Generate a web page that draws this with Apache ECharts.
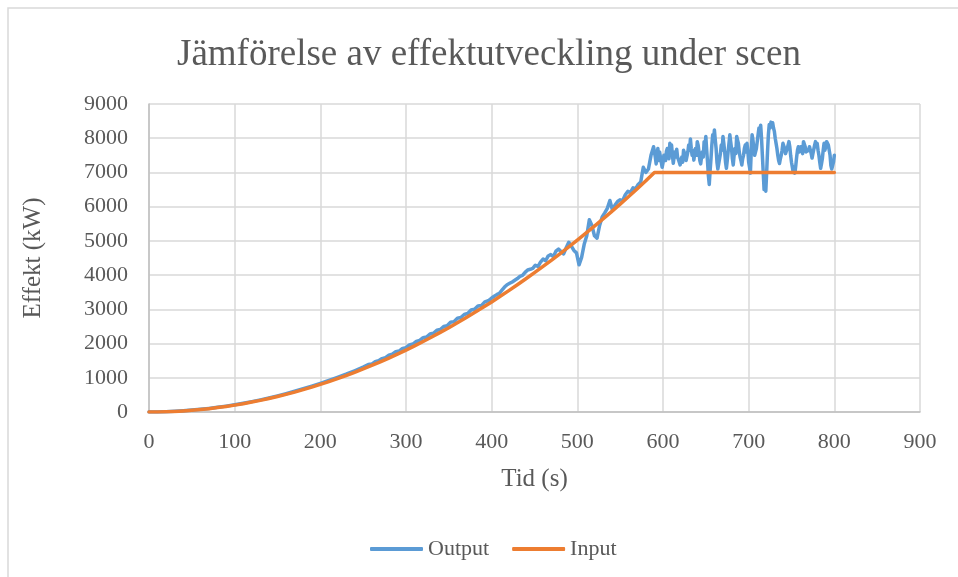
<!DOCTYPE html>
<html>
<head>
<meta charset="utf-8">
<script src="https://cdn.jsdelivr.net/npm/echarts@6/dist/echarts.min.js"></script>
<style>
  html, body { margin: 0; padding: 0; background: #ffffff; }
  #chart { width: 958px; height: 577px; }
</style>
</head>
<body>
<div id="chart"></div>
<script>
// Effekt över tid: uppmätt effekt (Output) och begärd effekt (Input)
const inputTime = [0,10,20,30,40,50,60,70,80,90,100,110,120,130,140,150,160,170,180,190,200,210,220,230,240,250,260,270,280,290,300,310,320,330,340,350,360,370,380,390,400,410,420,430,440,450,460,470,480,490,500,510,520,530,540,550,560,570,580,590,600,650,700,750,800];
const inputPower = [0,2,8,18,32,50,72,98,129,163,201,243,290,340,394,452,515,581,652,726,805,887,973,1063,1158,1257,1359,1466,1577,1692,1810,1933,2060,2191,2326,2464,2607,2753,2904,3059,3217,3380,3547,3717,3892,4071,4253,4440,4630,4825,5023,5226,5432,5643,5857,6076,6298,6525,6755,7000,7000,7000,7000,7000,7000];

// Upprampning 0–589 s
const outputTimeRamp = [
  0,10,20,30,40,50,60,70,80,90,100,110,120,130,140,150,160,170,180,190,200,210,220,230,240,250,
  252,256,260,264,268,272,276,280,284,288,292,296,300,304,308,312,316,320,324,328,332,336,340,344,348,352,356,360,364,368,372,376,380,384,388,392,396,400,
  403,406,409,412,415,418,421,424,427,430,433,436,439,442,445,448,451,454,457,460,463,466,469,472,475,478,481,484,487,490,493,496,499,502,505,508,511,514,517,520,523,526,529,532,535,538,541,544,547,550,553,556,559,562,565,568,571,574,577,580,583,586,589
];
const outputPowerRamp = [
  0,3,10,20,35,55,78,105,137,172,212,255,303,355,410,470,535,605,678,755,838,922,1012,1105,1205,1310,
  1330,1385,1400,1470,1500,1560,1590,1660,1690,1760,1780,1860,1880,1960,1985,2060,2090,2170,2190,2280,2300,2390,2410,2500,2520,2620,2640,2740,2760,2850,2880,2980,3000,3100,3110,3220,3250,3330,
  3380,3430,3470,3560,3650,3720,3760,3800,3850,3900,3960,3990,4080,4150,4170,4200,4290,4250,4380,4470,4420,4560,4600,4540,4700,4760,4690,4620,4800,4960,4850,4720,4650,4300,4520,4900,5150,5620,5450,5150,5080,5450,5700,5820,5950,6180,5900,6050,6150,6200,6180,6350,6450,6420,6550,6520,6650,6720,7150,7000,7100,7500,7750
];

// Platå 590–800 s, en sekunds upplösning
const outputTimePlateau = [
  590,591,592,593,594,595,596,597,598,599,600,601,602,603,604,605,606,607,608,609,
  610,611,612,613,614,615,616,617,618,619,620,621,622,623,624,625,626,627,628,629,
  630,631,632,633,634,635,636,637,638,639,640,641,642,643,644,645,646,647,648,649,
  650,651,652,653,654,655,656,657,658,659,660,661,662,663,664,665,666,667,668,669,
  670,671,672,673,674,675,676,677,678,679,680,681,682,683,684,685,686,687,688,689,
  690,691,692,693,694,695,696,697,698,699,700,701,702,703,704,705,706,707,708,709,
  710,711,712,713,714,715,716,717,718,719,720,721,722,723,724,725,726,727,728,729,
  730,731,732,733,734,735,736,737,738,739,740,741,742,743,744,745,746,747,748,749,
  750,751,752,753,754,755,756,757,758,759,760,761,762,763,764,765,766,767,768,769,
  770,771,772,773,774,775,776,777,778,779,780,781,782,783,784,785,786,787,788,789,
  790,791,792,793,794,795,796,797,798,799,800
];
const outputPowerPlateau = [
  7700,7450,7250,7550,7700,7350,7600,7550,7300,7150,7280,7500,7550,7350,7620,7700,7500,7400,7850,7650,
  7800,7500,7270,7450,7600,7450,7680,7450,7500,7300,7220,7350,7450,7300,7650,7700,7500,7350,7320,7600,
  7800,7650,7980,7700,7500,7650,7360,7550,7700,7500,7900,7800,7600,7350,7250,7450,7600,7450,7900,7750,
  8050,7650,7300,6900,6650,7050,7400,7800,8100,7950,8240,7950,7700,7300,7100,7250,7300,7550,7800,7650,
  8050,7850,7600,7300,7120,7350,7600,7850,8100,7900,7700,7400,7220,7500,7700,7550,8050,7950,7850,7600,
  7450,7350,7220,7400,7500,7700,7800,7600,7850,7650,7300,7150,6980,7600,8100,7950,7700,7500,7460,7700,
  7900,8100,8300,8150,8380,8000,7500,7000,6500,6600,6450,7000,7600,8100,8400,8300,8470,8350,8450,8300,
  8200,8000,7850,7700,7500,7350,7260,7400,7500,7650,7850,7900,7700,7550,7560,7700,7800,7900,7750,7500,
  7300,7150,7000,7150,6980,7200,7450,7650,7750,7600,7600,7750,7700,7550,7900,7850,7750,7600,7560,7650,
  7650,7750,7750,7550,7420,7550,7600,7800,7900,7750,7850,7650,7500,7300,7120,7250,7400,7650,7850,7650,
  7750,7900,7950,7800,7800,7500,7200,7100,7070,7300,7500
];

const titleText = 'Jämförelse av effektutveckling under scen';
const xAxisName = 'Tid (s)';
const yAxisName = 'Effekt (kW)';
const seriesNames = ['Output', 'Input'];

const serif = '"Liberation Serif", "DejaVu Serif", serif';
const textGrey = '#595959';

const pairs = (xs, ys) => xs.map((x, i) => [x, ys[i]]);
const outputData = pairs(outputTimeRamp, outputPowerRamp).concat(pairs(outputTimePlateau, outputPowerPlateau));

const chart = echarts.init(document.getElementById('chart'), null, { renderer: 'canvas' });
chart.setOption({
  animation: false,
  backgroundColor: '#ffffff',
  graphic: [{
    type: 'rect',
    shape: { x: 8, y: 8, width: 1200, height: 1200 },
    style: { fill: 'none', stroke: '#d9d9d9', lineWidth: 1.5 },
    silent: true
  }],
  title: {
    text: titleText,
    left: 172,
    top: 32,
    textStyle: { fontFamily: serif, fontSize: 37, fontWeight: 'normal', color: textGrey }
  },
  legend: {
    left: 365,
    top: 533,
    icon: 'roundRect',
    itemWidth: 53,
    itemHeight: 4,
    itemGap: 23,
    textStyle: { fontFamily: serif, fontSize: 22, color: textGrey },
    data: seriesNames
  },
  grid: { left: 149, right: 38, top: 104, bottom: 165, containLabel: false },
  xAxis: {
    type: 'value',
    min: 0,
    max: 900,
    interval: 100,
    name: xAxisName,
    nameLocation: 'middle',
    nameGap: 55,
    nameTextStyle: { fontFamily: serif, fontSize: 25, color: textGrey },
    axisLine: { show: true, lineStyle: { color: '#bfbfbf', width: 1.5 } },
    axisTick: { show: false },
    axisLabel: { margin: 19, fontFamily: serif, fontSize: 22, color: textGrey },
    splitLine: { show: true, lineStyle: { color: '#d9d9d9', width: 1.5 } }
  },
  yAxis: {
    type: 'value',
    min: 0,
    max: 9000,
    interval: 1000,
    name: yAxisName,
    nameLocation: 'middle',
    nameGap: 103,
    nameRotate: 90,
    nameTextStyle: { fontFamily: serif, fontSize: 25, color: textGrey },
    axisLine: { show: true, lineStyle: { color: '#bfbfbf', width: 1.5 } },
    axisTick: { show: false },
    axisLabel: {
      margin: 21, fontFamily: serif, fontSize: 22, color: textGrey,
      formatter: (v) => String(v)
    },
    splitLine: { show: true, lineStyle: { color: '#d9d9d9', width: 1.5 } }
  },
  series: [
    {
      name: seriesNames[0],
      type: 'line',
      data: outputData,
      showSymbol: false,
      symbol: 'none',
      lineStyle: { color: '#5b9bd5', width: 3.5, cap: 'round', join: 'round' },
      itemStyle: { color: '#5b9bd5' },
      z: 2
    },
    {
      name: seriesNames[1],
      type: 'line',
      data: pairs(inputTime, inputPower),
      showSymbol: false,
      symbol: 'none',
      lineStyle: { color: '#ed7d31', width: 3.5, cap: 'round', join: 'round' },
      itemStyle: { color: '#ed7d31' },
      z: 3
    }
  ]
});
</script>
</body>
</html>
